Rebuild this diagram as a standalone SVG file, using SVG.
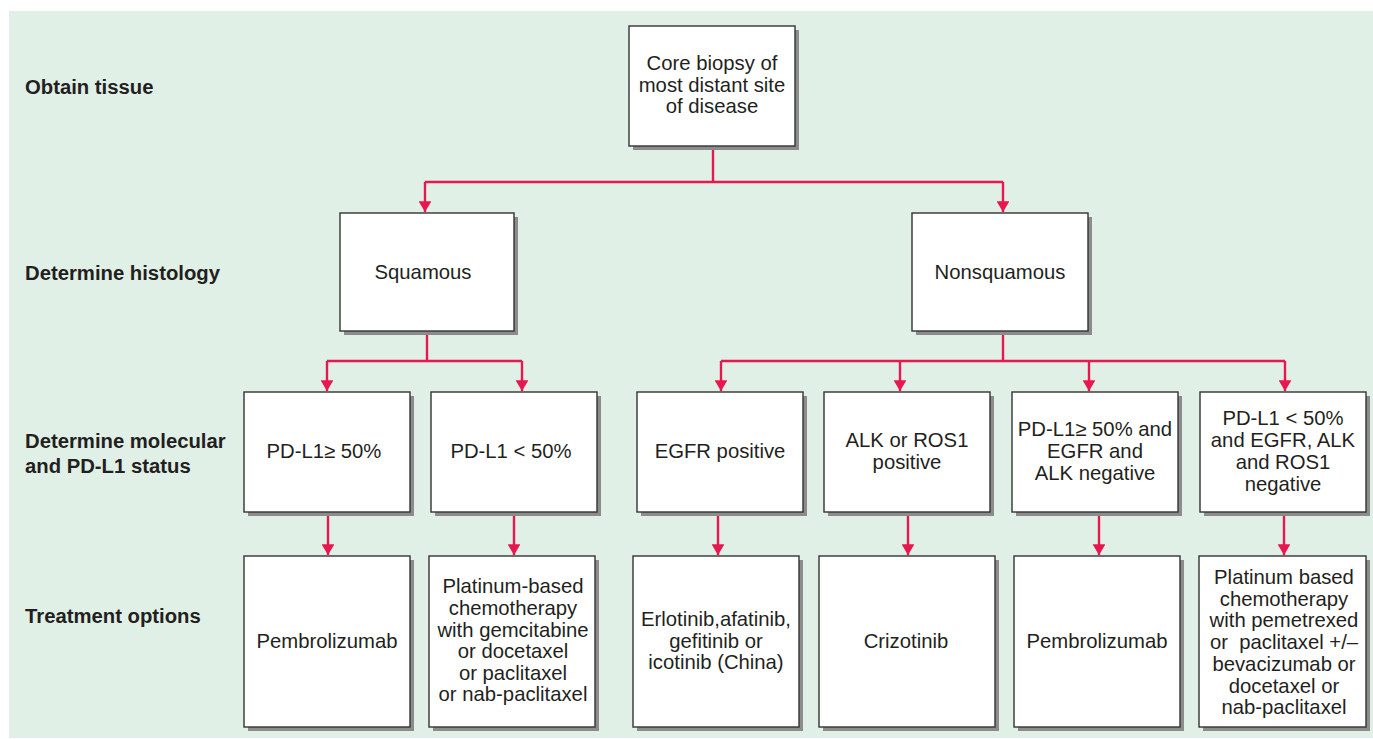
<svg xmlns="http://www.w3.org/2000/svg" width="1373" height="739" viewBox="0 0 1373 739">
  <style>
    .label { font-family: "Liberation Sans", Arial, sans-serif; font-size: 20.3px; font-weight: bold; fill: #231f20; }
    .txt { font-family: "Liberation Sans", Arial, sans-serif; font-size: 20.3px; fill: #231f20; text-anchor: middle; }
    .box { fill: #ffffff; stroke: #333333; stroke-width: 1.4; }
    .shadow { fill: #8c8c8c; }
    .conn { fill: none; stroke: #e8174f; stroke-width: 2.4; }
  </style>
  <defs>
    <marker id="arrow" viewBox="0 0 10 12" refX="10" refY="6" markerWidth="5" markerHeight="5.4" markerUnits="strokeWidth" orient="auto">
      <path d="M0,0 L10,6 L0,12 Z" fill="#e8174f"/>
    </marker>
  </defs>

  <rect width="1373" height="739" fill="#ffffff"/>
  <rect x="9" y="11" width="1364" height="727" fill="#e1f0e6"/>

  <!-- row labels -->
  <g id="row-labels">
    <text class="label" x="25" y="94">Obtain tissue</text>
    <text class="label" x="25" y="280">Determine histology</text>
    <text class="label" x="25" y="448">Determine molecular</text>
    <text class="label" x="25" y="473">and PD-L1 status</text>
    <text class="label" x="25" y="623">Treatment options</text>
  </g>

  <!-- connectors -->
  <g id="connectors">
    <path class="conn" d="M713,146 V182"/>
    <path class="conn" d="M425,182 H1003"/>
    <path class="conn" d="M425,182 V212" marker-end="url(#arrow)"/>
    <path class="conn" d="M1003,182 V212" marker-end="url(#arrow)"/>

    <path class="conn" d="M427,332 V361"/>
    <path class="conn" d="M327,361 H522"/>
    <path class="conn" d="M327,361 V391" marker-end="url(#arrow)"/>
    <path class="conn" d="M522,361 V391" marker-end="url(#arrow)"/>

    <path class="conn" d="M1003,332 V361"/>
    <path class="conn" d="M721,361 H1285"/>
    <path class="conn" d="M721,361 V391" marker-end="url(#arrow)"/>
    <path class="conn" d="M900,361 V391" marker-end="url(#arrow)"/>
    <path class="conn" d="M1089,361 V391" marker-end="url(#arrow)"/>
    <path class="conn" d="M1285,361 V391" marker-end="url(#arrow)"/>

    <path class="conn" d="M328,512 V555" marker-end="url(#arrow)"/>
    <path class="conn" d="M514,512 V555" marker-end="url(#arrow)"/>
    <path class="conn" d="M718,512 V555" marker-end="url(#arrow)"/>
    <path class="conn" d="M908,512 V555" marker-end="url(#arrow)"/>
    <path class="conn" d="M1099,512 V555" marker-end="url(#arrow)"/>
    <path class="conn" d="M1284,512 V555" marker-end="url(#arrow)"/>
  </g>

  <!-- tissue -->
  <g id="core-biopsy">
    <rect class="shadow" x="633" y="30" width="166" height="120"/>
    <rect class="box" x="629" y="26" width="166" height="120"/>
    <text class="txt" x="712" y="70">Core biopsy of</text>
    <text class="txt" x="712" y="91.5">most distant site</text>
    <text class="txt" x="712" y="113">of disease</text>
  </g>

  <!-- histology -->
  <g id="squamous">
    <rect class="shadow" x="344" y="217" width="174" height="118"/>
    <rect class="box" x="340" y="213" width="174" height="118"/>
    <text class="txt" x="423" y="279">Squamous</text>
  </g>
  <g id="nonsquamous">
    <rect class="shadow" x="916" y="217" width="176" height="118"/>
    <rect class="box" x="912" y="213" width="176" height="118"/>
    <text class="txt" x="1000" y="279">Nonsquamous</text>
  </g>

  <!-- molecular / PD-L1 status -->
  <g id="sq-pdl1-high">
    <rect class="shadow" x="248" y="396" width="166" height="120"/>
    <rect class="box" x="244" y="392" width="166" height="120"/>
    <text class="txt" x="324" y="458">PD-L1≥ 50%</text>
  </g>
  <g id="sq-pdl1-low">
    <rect class="shadow" x="435" y="396" width="166" height="120"/>
    <rect class="box" x="431" y="392" width="166" height="120"/>
    <text class="txt" x="511" y="458">PD-L1 &lt; 50%</text>
  </g>
  <g id="egfr-positive">
    <rect class="shadow" x="641" y="396" width="166" height="120"/>
    <rect class="box" x="637" y="392" width="166" height="120"/>
    <text class="txt" x="720" y="458">EGFR positive</text>
  </g>
  <g id="alk-ros1-positive">
    <rect class="shadow" x="828" y="396" width="166" height="120"/>
    <rect class="box" x="824" y="392" width="166" height="120"/>
    <text class="txt" x="907" y="447">ALK or ROS1</text>
    <text class="txt" x="907" y="468.5">positive</text>
  </g>
  <g id="nsq-pdl1-high">
    <rect class="shadow" x="1016" y="396" width="166" height="120"/>
    <rect class="box" x="1012" y="392" width="166" height="120"/>
    <text class="txt" x="1095" y="436">PD-L1≥ 50% and</text>
    <text class="txt" x="1095" y="458">EGFR and</text>
    <text class="txt" x="1095" y="480">ALK negative</text>
  </g>
  <g id="nsq-pdl1-low">
    <rect class="shadow" x="1204" y="396" width="166" height="120"/>
    <rect class="box" x="1200" y="392" width="166" height="120"/>
    <text class="txt" x="1283" y="425">PD-L1 &lt; 50%</text>
    <text class="txt" x="1283" y="446.5">and EGFR, ALK</text>
    <text class="txt" x="1283" y="468.5">and ROS1</text>
    <text class="txt" x="1283" y="490.5">negative</text>
  </g>

  <!-- treatment options -->
  <g id="sq-pembrolizumab">
    <rect class="shadow" x="248" y="560" width="166" height="171"/>
    <rect class="box" x="244" y="556" width="166" height="171"/>
    <text class="txt" x="327" y="648">Pembrolizumab</text>
  </g>
  <g id="sq-platinum">
    <rect class="shadow" x="433" y="560" width="166" height="171"/>
    <rect class="box" x="429" y="556" width="166" height="171"/>
    <text class="txt" x="513" y="593">Platinum-based</text>
    <text class="txt" x="513" y="614.5">chemotherapy</text>
    <text class="txt" x="513" y="636.5">with gemcitabine</text>
    <text class="txt" x="513" y="658">or docetaxel</text>
    <text class="txt" x="513" y="679.5">or paclitaxel</text>
    <text class="txt" x="513" y="701">or nab-paclitaxel</text>
  </g>
  <g id="egfr-tki">
    <rect class="shadow" x="637" y="560" width="166" height="171"/>
    <rect class="box" x="633" y="556" width="166" height="171"/>
    <text class="txt" x="716" y="626">Erlotinib,afatinib,</text>
    <text class="txt" x="716" y="647.5">gefitinib or</text>
    <text class="txt" x="716" y="669">icotinib (China)</text>
  </g>
  <g id="crizotinib">
    <rect class="shadow" x="823" y="560" width="176" height="171"/>
    <rect class="box" x="819" y="556" width="176" height="171"/>
    <text class="txt" x="906" y="647.5">Crizotinib</text>
  </g>
  <g id="nsq-pembrolizumab">
    <rect class="shadow" x="1018" y="560" width="166" height="171"/>
    <rect class="box" x="1014" y="556" width="166" height="171"/>
    <text class="txt" x="1097" y="648">Pembrolizumab</text>
  </g>
  <g id="nsq-platinum">
    <rect class="shadow" x="1203" y="560" width="167" height="171"/>
    <rect class="box" x="1199" y="556" width="167" height="171"/>
    <text class="txt" x="1284" y="583.5">Platinum based</text>
    <text class="txt" x="1284" y="605.5">chemotherapy</text>
    <text class="txt" x="1284" y="627">with pemetrexed</text>
    <text class="txt" x="1284" y="649" xml:space="preserve">or  paclitaxel +/–</text>
    <text class="txt" x="1284" y="670.5">bevacizumab or</text>
    <text class="txt" x="1284" y="692.5">docetaxel or</text>
    <text class="txt" x="1284" y="713.5">nab-paclitaxel</text>
  </g>
</svg>
